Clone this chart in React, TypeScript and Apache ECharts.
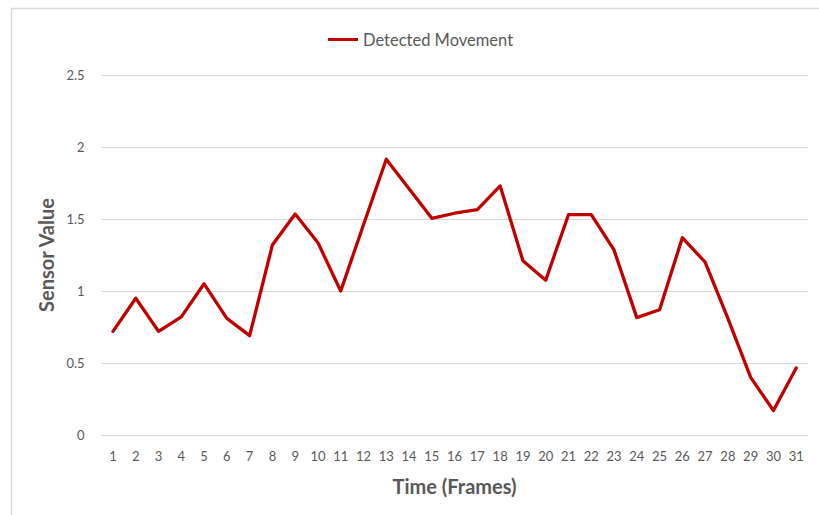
import React, { useEffect, useRef } from "react";
import * as echarts from "echarts";

const frames = ["1","2","3","4","5","6","7","8","9","10","11","12","13","14","15","16","17","18","19","20","21","22","23","24","25","26","27","28","29","30","31"];
const movement = [0.72, 0.95, 0.72, 0.82, 1.05, 0.81, 0.69, 1.32, 1.535, 1.335, 1.0, 1.46, 1.915, 1.71, 1.505, 1.54, 1.565, 1.73, 1.21, 1.075, 1.53, 1.53, 1.285, 0.815, 0.87, 1.37, 1.2, 0.81, 0.4, 0.17, 0.465];
const seriesName = "Detected Movement";
const xTitle = "Time (Frames)";
const yTitle = "Sensor Value";

const FONT = "Lato, 'Open Sans', sans-serif";
const TXT = "#595959";

export default function App() {
  const ref = useRef<HTMLDivElement>(null);
  useEffect(() => {
    if (!ref.current) return;
    const chart = echarts.init(ref.current, undefined, { renderer: "svg" });
    chart.setOption({
      animation: false,
      backgroundColor: "#ffffff",
      graphic: [
        {
          type: "rect",
          shape: { x: 11.5, y: 8.5, width: 900, height: 600 },
          style: { fill: "none", stroke: "#d9d9d9", lineWidth: 1.5 },
          silent: true,
        },
      ],
      legend: {
        left: 323,
        top: 26,
        itemWidth: 30,
        itemHeight: 3,
        itemGap: 10,
        icon: "rect",
        textStyle: { color: TXT, fontFamily: FONT, fontSize: 16.5 },
        data: [{ name: seriesName, icon: "rect" }],
      },
      grid: { left: 101.6, right: 11.4, top: 75, bottom: 80 },
      xAxis: {
        type: "category",
        data: frames,
        boundaryGap: true,
        axisLine: { show: true, lineStyle: { color: "#d9d9d9", width: 1.2 } },
        axisTick: { show: false },
        axisLabel: { color: TXT, fontFamily: FONT, fontSize: 13, margin: 14, interval: 0 },
        name: xTitle,
        nameLocation: "middle",
        nameGap: 41,
        nameTextStyle: { color: TXT, fontFamily: FONT, fontSize: 20, fontWeight: "bold", verticalAlign: "top" },
      },
      yAxis: {
        type: "value",
        min: 0,
        max: 2.5,
        interval: 0.5,
        axisLine: { show: false },
        axisTick: { show: false },
        splitLine: { lineStyle: { color: "#d9d9d9", width: 1.2 } },
        axisLabel: { color: TXT, fontFamily: FONT, fontSize: 13, margin: 17 },
        name: yTitle,
        nameLocation: "middle",
        nameGap: 45,
        nameTextStyle: { color: TXT, fontFamily: FONT, fontSize: 20, fontWeight: "bold" },
      },
      series: [
        {
          name: seriesName,
          type: "line",
          data: movement,
          symbol: "none",
          lineStyle: { color: "#c00000", width: 3.3, join: "round", cap: "round" },
          itemStyle: { color: "#c00000" },
        },
      ],
    });
    return () => chart.dispose();
  }, []);
  return (
    <div
      ref={ref}
      style={{ position: "fixed", left: 0, top: 0, width: 819, height: 515 }}
    />
  );
}
